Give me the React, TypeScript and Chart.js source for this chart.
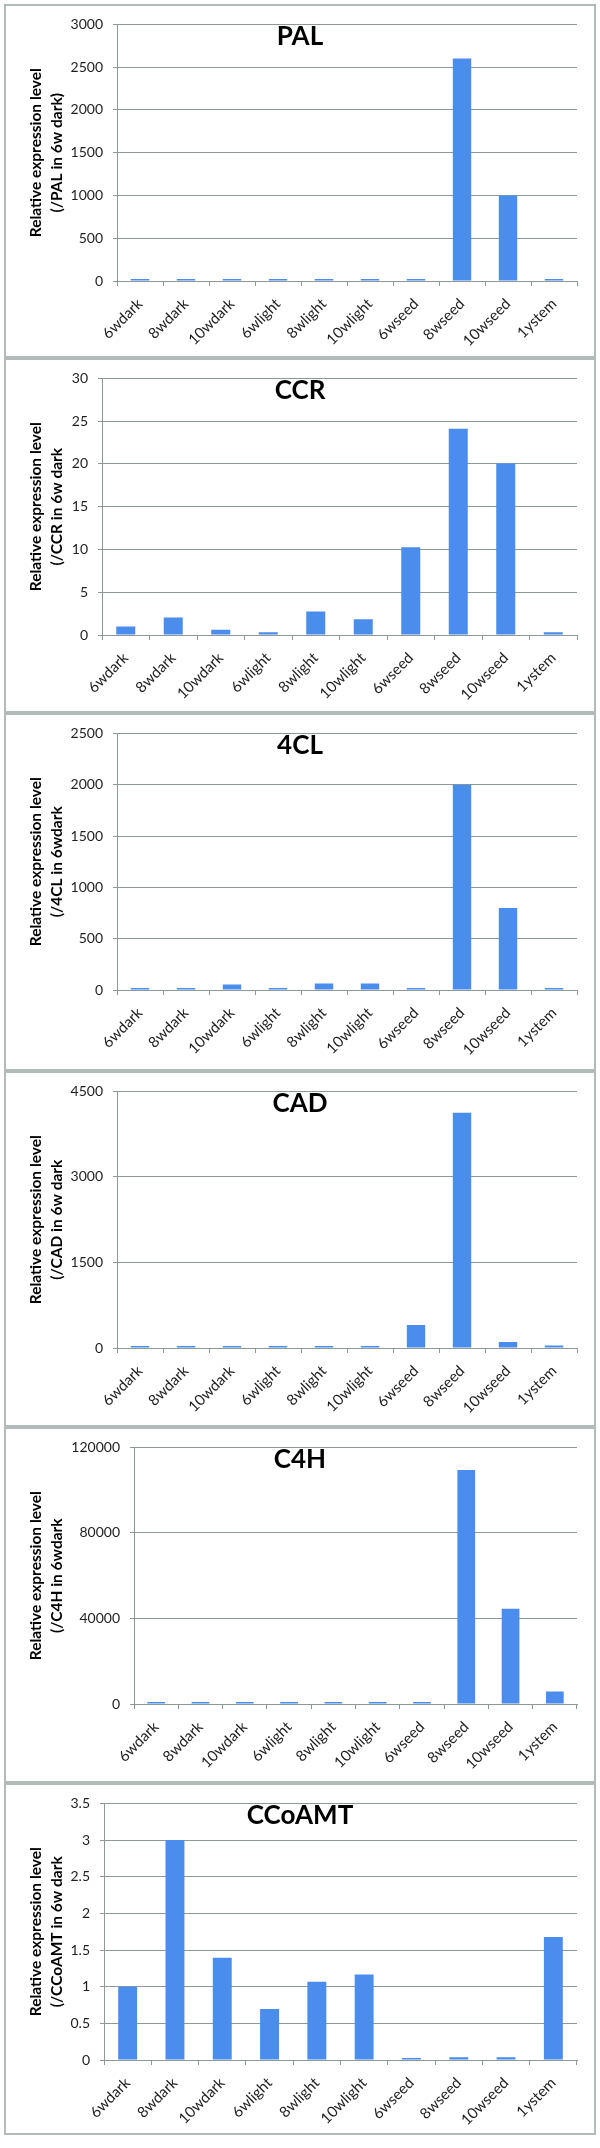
import React, { useEffect, useRef } from 'react';
import { Chart, registerables } from 'chart.js';

Chart.register(...registerables);

// ---- data ----
const categories = ['6wdark', '8wdark', '10wdark', '6wlight', '8wlight', '10wlight', '6wseed', '8wseed', '10wseed', '1ystem'];

const palValues = [1, 2, 1.5, 3, 5, 4, 6, 2600, 1000, 3];
const ccrValues = [1, 2.04, 0.62, 0.31, 2.74, 1.85, 10.25, 24.1, 20.05, 0.31];
const fourClValues = [1, 4, 54, 3, 64, 64, 8, 2000, 798, 10];
const cadValues = [1, 5, 8, 6, 7, 9, 405, 4124, 104, 46];
const c4hValues = [1, 420, 380, 450, 510, 470, 560, 109400, 44500, 5850];
const ccoamtValues = [1.0, 3.0, 1.395, 0.697, 1.066, 1.165, 0.018, 0.036, 0.036, 1.678];

const geneNames = ['PAL', 'CCR', '4CL', 'CAD', 'C4H', 'CCoAMT'];
const yTitleLine1 = 'Relative expression level';
const yTitleLine2 = ['(/PAL in 6w dark)', '(/CCR in 6w dark', '(/4CL in 6wdark', '(/CAD in 6w dark', '(/C4H in 6wdark', '(/CCoAMT in 6w dark'];
const yMaxes = [3000, 30, 2500, 4500, 120000, 3.5];
const ySteps = [500, 5, 500, 1500, 40000, 0.5];
const seriesList = [palValues, ccrValues, fourClValues, cadValues, c4hValues, ccoamtValues];

// ---- layout / style ----
const panelTops = [4, 358, 713, 1071, 1427, 1783];
const panelBottomEnd = 2135;
const yAxisWidths = [92, 77, 92, 92, 109, 79];
const PANEL_LEFT = 4;
const PANEL_WIDTH = 592;
const BORDER = 2;
const FONT = 'Lato, "Open Sans", sans-serif';
const GRID = '#8d9898';
const TICK = '#1e1e1e';
const BAR = '#4a8ded';
const X_AXIS_H = 70;
const ZERO_Y = 275;

type PanelProps = { idx: number; height: number };

function Panel({ idx, height }: PanelProps) {
  const ref = useRef<HTMLCanvasElement | null>(null);
  const cw = PANEL_WIDTH - 2 * BORDER;
  const ch = height - 2 * BORDER;

  useEffect(() => {
    if (!ref.current) return;
    const title = geneNames[idx];
    const overlayTitle = {
      id: 'overlayTitle',
      afterDraw(chart: any) {
        const ctx = chart.ctx;
        ctx.save();
        ctx.font = `bold 26px ${FONT}`;
        ctx.fillStyle = '#000';
        ctx.textAlign = 'center';
        ctx.textBaseline = 'alphabetic';
        ctx.fillText(title, chart.width / 2, 39);
        ctx.restore();
      },
    };
    const axisW = yAxisWidths[idx];
    const chart = new Chart(ref.current, {
      type: 'bar',
      data: {
        labels: categories,
        datasets: [
          {
            data: seriesList[idx],
            backgroundColor: BAR,
            barPercentage: 0.4,
            categoryPercentage: 1,
            minBarLength: 2,
          },
        ],
      },
      options: {
        responsive: false,
        animation: false,
        devicePixelRatio: 1,
        layout: { padding: { left: 19, right: 17, top: 16, bottom: ch - ZERO_Y - X_AXIS_H } },
        plugins: {
          legend: { display: false },
          tooltip: { enabled: false },
          title: { display: false },
        },
        scales: {
          x: {
            grid: { display: true, drawOnChartArea: false, drawTicks: true, tickLength: 5, offset: true, color: GRID, lineWidth: 1 },
            border: { display: true, color: GRID, width: 1 },
            ticks: {
              maxRotation: 45,
              minRotation: 45,
              autoSkip: false,
              padding: 9,
              color: TICK,
              font: { family: FONT, size: 15 },
            },
            afterFit: (s: any) => {
              s.height = X_AXIS_H;
            },
          },
          y: {
            min: 0,
            max: yMaxes[idx],
            grid: { color: GRID, lineWidth: 1, drawTicks: true, tickLength: 4 },
            border: { display: true, color: GRID, width: 1 },
            ticks: {
              stepSize: ySteps[idx],
              padding: 10,
              color: TICK,
              font: { family: FONT, size: 14 },
              callback: (v: any) => String(v),
            },
            title: {
              display: true,
              text: [yTitleLine1, yTitleLine2[idx]],
              color: '#000',
              font: { family: FONT, size: 15.5, weight: 'bold', lineHeight: 1.39 },
              padding: { top: 0, bottom: 10 },
            },
            afterFit: (s: any) => {
              s.width = axisW;
            },
          },
        },
      },
      plugins: [overlayTitle],
    } as any);
    return () => chart.destroy();
  }, [idx, ch]);

  return (
    <div
      style={{
        position: 'absolute',
        left: PANEL_LEFT,
        top: panelTops[idx],
        width: PANEL_WIDTH,
        height: height,
        boxSizing: 'border-box',
        border: `${BORDER}px solid #b3baba`,
        background: '#fff',
      }}
    >
      <canvas ref={ref} width={cw} height={ch} style={{ display: 'block', width: cw, height: ch }} />
    </div>
  );
}

export default function App() {
  return (
    <div style={{ position: 'absolute', left: 0, top: 0, width: 600, height: 2148, background: '#fff' }}>
      {geneNames.map((_, i) => {
        const next = i + 1 < panelTops.length ? panelTops[i + 1] : panelBottomEnd;
        return <Panel key={i} idx={i} height={next - panelTops[i]} />;
      })}
    </div>
  );
}
